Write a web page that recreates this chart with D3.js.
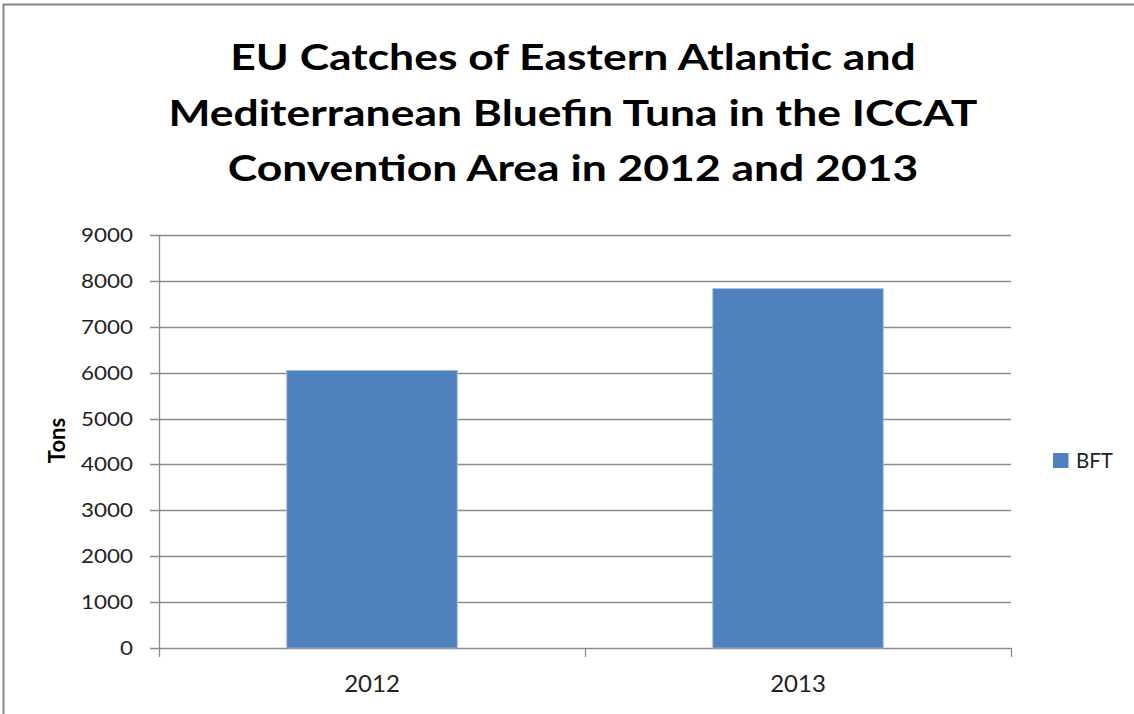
<!DOCTYPE html>
<html lang="en">
<head>
<meta charset="UTF-8" />
<title>EU Catches of Bluefin Tuna</title>
<script src="https://d3js.org/d3.v7.min.js"></script>
<style>
    body { margin: 0; background: #fff; }
    svg { display: block; font-family: Lato, "Open Sans", sans-serif; }
</style>
</head>
<body>
<div id="viz"></div>
<script>
    // --- Data ---
    const years = ["2012", "2013"];
    const bft = [6050, 7830];
    const yTicks = [0, 1000, 2000, 3000, 4000, 5000, 6000, 7000, 8000, 9000];
    const titleLines = [
        "EU Catches of Eastern Atlantic and",
        "Mediterranean Bluefin Tuna in the ICCAT",
        "Convention Area in 2012 and 2013"
    ];

    const width = 1134, height = 714;
    const svg = d3.select("#viz").append("svg")
        .attr("width", width)
        .attr("height", height);

    // chart frame (only top and left edges show in the original crop)
    svg.append("path")
        .attr("d", `M3.5,${height} V4.5 H${width}`)
        .attr("fill", "none")
        .attr("stroke", "#888")
        .attr("stroke-width", 2);

    // title - the source text is a bit wider than Lato, so stretch it slightly
    const titleBase = [70, 125.5, 181];
    svg.append("g").selectAll("text")
        .data(titleLines)
        .join("text")
        .attr("transform", (d, i) => `translate(573,${titleBase[i]}) scale(1.235,1)`)
        .attr("text-anchor", "middle")
        .attr("font-size", 36)
        .attr("font-weight", "bold")
        .attr("fill", "#000")
        .text(d => d);

    const plot = { left: 159, right: 1011, top: 235, bottom: 648 };

    const x = d3.scaleBand()
        .domain(years)
        .range([plot.left, plot.right])
        .paddingInner(0.6)
        .paddingOuter(0.3);

    const y = d3.scaleLinear()
        .domain([0, 9000])
        .range([plot.bottom, plot.top]);

    // gridlines (with the little tick stubs left of the axis)
    svg.append("g").selectAll("line")
        .data(yTicks)
        .join("line")
        .attr("x1", plot.left - 9)
        .attr("x2", plot.right)
        .attr("y1", d => Math.round(y(d)) + 0.5)
        .attr("y2", d => Math.round(y(d)) + 0.5)
        .attr("stroke", "#8c8c8c")
        .attr("stroke-width", 1.3);

    // y labels
    svg.append("g").selectAll("text")
        .data(yTicks)
        .join("text")
        .attr("transform", d => `translate(133,${y(d) + 7}) scale(1.12,1)`)
        .attr("text-anchor", "end")
        .attr("font-size", 20)
        .attr("fill", "#222")
        .text(d => d);

    // bars
    svg.append("g").selectAll("rect")
        .data(bft)
        .join("rect")
        .attr("x", (d, i) => x(years[i]))
        .attr("width", x.bandwidth())
        .attr("y", d => y(d))
        .attr("height", d => y(0) - y(d))
        .attr("fill", "#4f81bd")
        .attr("stroke", "#9db8dc")
        .attr("stroke-width", 0.8);

    // y axis line
    svg.append("line")
        .attr("x1", plot.left + 0.5).attr("x2", plot.left + 0.5)
        .attr("y1", plot.top).attr("y2", plot.bottom + 9)
        .attr("stroke", "#8c8c8c")
        .attr("stroke-width", 1.3);

    // x category boundary ticks
    const step = x.step();
    const bounds = d3.range(years.length + 1).map(i => plot.left + i * step);
    svg.append("g").selectAll("line")
        .data(bounds.slice(1))
        .join("line")
        .attr("x1", d => Math.round(d) + 0.5).attr("x2", d => Math.round(d) + 0.5)
        .attr("y1", plot.bottom).attr("y2", plot.bottom + 9)
        .attr("stroke", "#8c8c8c")
        .attr("stroke-width", 1.3);

    // x labels
    svg.append("g").selectAll("text")
        .data(years)
        .join("text")
        .attr("x", d => x(d) + x.bandwidth() / 2)
        .attr("y", 691.5)
        .attr("text-anchor", "middle")
        .attr("font-size", 24)
        .attr("fill", "#222")
        .text(d => d);

    // y axis title
    svg.append("text")
        .attr("transform", "translate(64.5,440.5) rotate(-90)")
        .attr("text-anchor", "middle")
        .attr("font-size", 22)
        .attr("font-weight", "bold")
        .attr("fill", "#000")
        .text("Tons");

    // legend
    svg.append("rect")
        .attr("x", 1053).attr("y", 453)
        .attr("width", 15.5).attr("height", 15)
        .attr("fill", "#4f81bd");
    svg.append("text")
        .attr("x", 1076).attr("y", 467.5)
        .attr("font-size", 20.5)
        .attr("fill", "#222")
        .text("BFT");
</script>
</body>
</html>
